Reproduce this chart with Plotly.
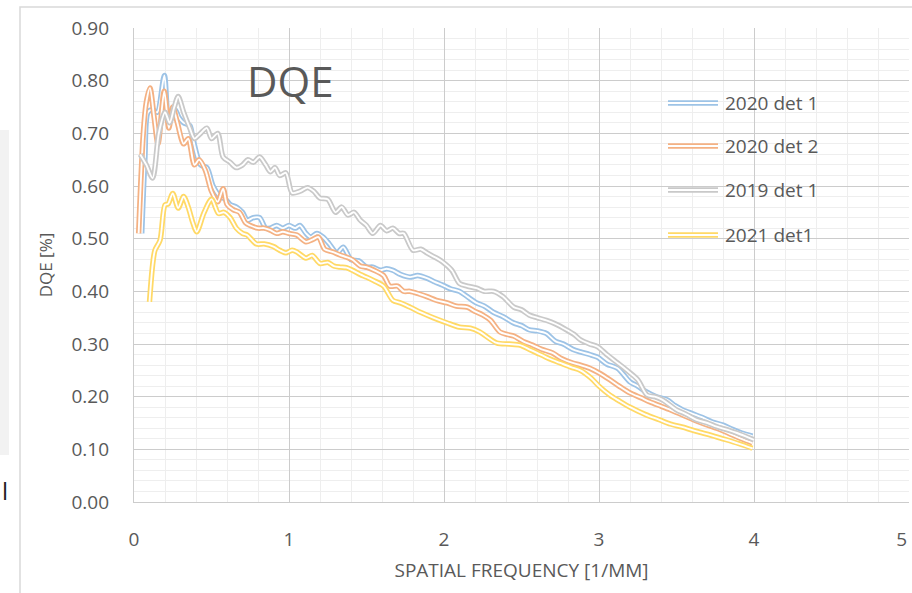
import plotly.graph_objects as go

# ---------------- data ----------------
blue_x = [0.05, 0.07, 0.09, 0.12, 0.15, 0.196, 0.225, 0.265, 0.29, 0.32, 0.36, 0.38, 0.43, 0.47, 0.51,
          0.555, 0.59, 0.62, 0.66, 0.70, 0.73, 0.77, 0.81, 0.85, 0.88, 0.92, 0.96, 1.00, 1.04, 1.07,
          1.11, 1.14, 1.18, 1.22, 1.26, 1.31, 1.35, 1.40, 1.45, 1.50, 1.54, 1.59, 1.63, 1.67, 1.72,
          1.78, 1.83, 1.89, 1.94, 1.99, 2.04, 2.10, 2.15, 2.21, 2.26, 2.32, 2.38, 2.45, 2.50, 2.55,
          2.60, 2.66, 2.72, 2.77, 2.83, 2.88, 2.94, 2.99, 3.05, 3.12, 3.20, 3.25, 3.30, 3.37, 3.44,
          3.49, 3.54, 3.60, 3.67, 3.73, 3.80, 3.86, 3.92, 3.99]
blue_y = [0.51, 0.65, 0.74, 0.745, 0.74, 0.81, 0.72, 0.745, 0.73, 0.72, 0.715, 0.69, 0.64, 0.635, 0.60,
          0.58, 0.575, 0.565, 0.56, 0.55, 0.535, 0.54, 0.54, 0.52, 0.52, 0.525, 0.52, 0.525, 0.52, 0.525,
          0.51, 0.503, 0.51, 0.503, 0.49, 0.473, 0.484, 0.46, 0.458, 0.446, 0.446, 0.44, 0.443, 0.44, 0.432,
          0.427, 0.43, 0.425, 0.418, 0.412, 0.405, 0.40, 0.39, 0.378, 0.372, 0.36, 0.352, 0.34, 0.335, 0.327,
          0.325, 0.32, 0.305, 0.30, 0.29, 0.285, 0.28, 0.275, 0.262, 0.254, 0.228, 0.22, 0.21, 0.20, 0.194,
          0.183, 0.175, 0.168, 0.16, 0.152, 0.146, 0.138, 0.131, 0.125]

orange_x = [0.03, 0.06, 0.08, 0.103, 0.13, 0.155, 0.195, 0.225, 0.25, 0.28, 0.32, 0.35, 0.39, 0.42, 0.46,
            0.50, 0.54, 0.575, 0.60, 0.64, 0.68, 0.72, 0.75, 0.80, 0.84, 0.88, 0.92, 0.96, 1.00, 1.05,
            1.11, 1.15, 1.19, 1.23, 1.28, 1.33, 1.37, 1.41, 1.46, 1.50, 1.55, 1.61, 1.65, 1.70, 1.74,
            1.78, 1.84, 1.89, 1.95, 2.02, 2.08, 2.15, 2.20, 2.25, 2.30, 2.36, 2.41, 2.45, 2.51, 2.57,
            2.63, 2.70, 2.76, 2.83, 2.88, 2.94, 3.00, 3.07, 3.13, 3.20, 3.27, 3.33, 3.40, 3.46, 3.54,
            3.61, 3.68, 3.76, 3.84, 3.92, 3.99]
orange_y = [0.51, 0.70, 0.76, 0.786, 0.73, 0.68, 0.78, 0.71, 0.75, 0.72, 0.68, 0.69, 0.64, 0.65, 0.63,
            0.59, 0.57, 0.595, 0.565, 0.555, 0.55, 0.53, 0.525, 0.52, 0.52, 0.516, 0.51, 0.513, 0.51, 0.507,
            0.494, 0.498, 0.503, 0.48, 0.475, 0.469, 0.465, 0.46, 0.448, 0.446, 0.44, 0.43, 0.41, 0.41, 0.40,
            0.40, 0.395, 0.39, 0.383, 0.378, 0.372, 0.37, 0.362, 0.355, 0.345, 0.323, 0.318, 0.315, 0.305, 0.298,
            0.29, 0.283, 0.272, 0.264, 0.26, 0.254, 0.245, 0.232, 0.22, 0.207, 0.198, 0.19, 0.182, 0.175, 0.165,
            0.156, 0.148, 0.14, 0.13, 0.12, 0.112]

grey_x = [0.04, 0.08, 0.12, 0.16, 0.20, 0.23, 0.26, 0.285, 0.32, 0.36, 0.39, 0.43, 0.47, 0.50, 0.54,
          0.575, 0.62, 0.66, 0.70, 0.735, 0.77, 0.81, 0.85, 0.88, 0.91, 0.94, 0.98, 1.02, 1.07, 1.12,
          1.16, 1.20, 1.25, 1.30, 1.34, 1.38, 1.42, 1.46, 1.50, 1.54, 1.59, 1.63, 1.67, 1.71, 1.74,
          1.80, 1.85, 1.89, 1.94, 1.99, 2.05, 2.10, 2.15, 2.21, 2.26, 2.32, 2.38, 2.45, 2.50, 2.55,
          2.60, 2.66, 2.72, 2.79, 2.84, 2.88, 2.94, 2.99, 3.05, 3.12, 3.18, 3.25, 3.31, 3.36, 3.41,
          3.50, 3.56, 3.63, 3.70, 3.76, 3.83, 3.89, 3.95, 4.00]
grey_y = [0.66, 0.64, 0.615, 0.70, 0.74, 0.72, 0.75, 0.77, 0.74, 0.71, 0.69, 0.70, 0.71, 0.69, 0.70,
          0.655, 0.645, 0.635, 0.64, 0.65, 0.645, 0.655, 0.64, 0.627, 0.635, 0.62, 0.625, 0.587, 0.59, 0.597,
          0.59, 0.577, 0.575, 0.55, 0.56, 0.545, 0.55, 0.535, 0.525, 0.51, 0.525, 0.515, 0.52, 0.51, 0.51,
          0.478, 0.48, 0.473, 0.465, 0.456, 0.44, 0.415, 0.41, 0.406, 0.40, 0.40, 0.39, 0.37, 0.365, 0.355,
          0.35, 0.345, 0.338, 0.327, 0.318, 0.308, 0.30, 0.295, 0.28, 0.264, 0.25, 0.232, 0.203, 0.20, 0.194,
          0.175, 0.167, 0.156, 0.15, 0.143, 0.137, 0.131, 0.124, 0.118]

yellow_x = [0.10, 0.12, 0.135, 0.168, 0.20, 0.22, 0.25, 0.285, 0.32, 0.35, 0.38, 0.405, 0.45, 0.50, 0.545,
            0.58, 0.62, 0.66, 0.70, 0.73, 0.79, 0.84, 0.90, 0.94, 0.98, 1.02, 1.05, 1.11, 1.15, 1.20,
            1.25, 1.29, 1.33, 1.37, 1.41, 1.46, 1.50, 1.55, 1.61, 1.67, 1.72, 1.78, 1.85, 1.93, 2.02,
            2.10, 2.17, 2.23, 2.34, 2.42, 2.49, 2.55, 2.60, 2.68, 2.75, 2.82, 2.88, 2.95, 3.00, 3.07,
            3.13, 3.20, 3.30, 3.39, 3.46, 3.54, 3.63, 3.72, 3.80, 3.90, 3.99]
yellow_y = [0.38, 0.45, 0.478, 0.497, 0.564, 0.566, 0.586, 0.558, 0.58, 0.56, 0.53, 0.513, 0.548, 0.575, 0.548,
            0.55, 0.54, 0.52, 0.51, 0.507, 0.49, 0.49, 0.485, 0.478, 0.473, 0.478, 0.475, 0.463, 0.468, 0.453,
            0.455, 0.448, 0.446, 0.445, 0.44, 0.432, 0.427, 0.42, 0.41, 0.383, 0.378, 0.37, 0.36, 0.35, 0.34,
            0.332, 0.33, 0.323, 0.302, 0.30, 0.298, 0.29, 0.283, 0.272, 0.264, 0.256, 0.25, 0.235, 0.22, 0.203,
            0.192, 0.18, 0.166, 0.156, 0.148, 0.142, 0.134, 0.127, 0.12, 0.111, 0.102]

series_names = ["2020 det 1", "2020 det 2", "2019 det 1", "2021 det1"]
series_x = [blue_x, orange_x, grey_x, yellow_x]
series_y = [blue_y, orange_y, grey_y, yellow_y]
series_colors = ["#9DC3E6", "#F4B183", "#C9C9C9", "#FFD966"]

x_ticks = [0, 1, 2, 3, 4, 5]
x_tick_labels = ["0", "1", "2", "3", "4", "5\u00a0\u00a0\u00a0"]
y_ticks = [0.0, 0.1, 0.2, 0.3, 0.4, 0.5, 0.6, 0.7, 0.8, 0.9]

# ---------------- figure ----------------
W, H = 912, 593
L, R, T, B = 134, 3, 28, 91
FONT = "Open Sans"
TXT = "#595959"
OUTER_W, INNER_W = 5.4, 1.9

fig = go.Figure()
for name, xs, ys, col in zip(series_names, series_x, series_y, series_colors):
    fig.add_trace(go.Scatter(x=xs, y=ys, mode="lines", name=name, showlegend=False,
                             line=dict(color=col, width=OUTER_W, shape="spline", smoothing=0.8),
                             hoverinfo="skip"))
    fig.add_trace(go.Scatter(x=xs, y=ys, mode="lines", name=name, showlegend=False,
                             line=dict(color="white", width=INNER_W, shape="spline", smoothing=0.8),
                             hoverinfo="skip"))

def px_x(p):
    return (p - L) / (W - L - R)

def px_y(p):
    return (H - B - p) / (H - T - B)

shapes = []
annotations = []

# manual legend with double-line symbols
legend_y = [103, 146, 190, 235]
for name, col, py in zip(series_names, series_colors, legend_y):
    for c, w in ((col, OUTER_W), ("white", INNER_W)):
        shapes.append(dict(type="line", xref="paper", yref="paper",
                           x0=px_x(668), x1=px_x(718), y0=px_y(py), y1=px_y(py),
                           line=dict(color=c, width=w)))
    annotations.append(dict(text=name, xref="paper", yref="paper", x=px_x(723), y=px_y(py),
                            xanchor="left", yanchor="middle", showarrow=False,
                            font=dict(family=FONT, size=19, color=TXT)))

# chart title inside the plot
annotations.append(dict(text="DQE", xref="paper", yref="paper", x=px_x(290), y=px_y(80),
                        xanchor="center", yanchor="middle", showarrow=False,
                        font=dict(family=FONT, size=42, color=TXT)))

# chart area border (Excel frame) and surrounding sheet remnants
shapes.append(dict(type="rect", xref="paper", yref="paper", x0=px_x(20), x1=px_x(930),
                   y0=px_y(620), y1=px_y(7), line=dict(color="#D9D9D9", width=1.5),
                   fillcolor="rgba(0,0,0,0)", layer="below"))
shapes.append(dict(type="rect", xref="paper", yref="paper", x0=px_x(0), x1=px_x(9),
                   y0=px_y(455), y1=px_y(130), line=dict(width=0), fillcolor="#F2F2F2",
                   layer="below"))
annotations.append(dict(text="l", xref="paper", yref="paper", x=px_x(5), y=px_y(490),
                        xanchor="center", yanchor="middle", showarrow=False,
                        font=dict(family=FONT, size=24, color="#222222")))

fig.update_layout(
    width=W, height=H,
    margin=dict(l=L, r=R, t=T, b=B, autoexpand=False),
    paper_bgcolor="white", plot_bgcolor="white",
    shapes=shapes, annotations=annotations,
    showlegend=False,
    font=dict(family=FONT, color=TXT),
)

fig.update_xaxes(
    range=[0, 5], tickvals=x_ticks, ticktext=x_tick_labels,
    showgrid=True, gridcolor="#CCCCCC", gridwidth=1.3,
    minor=dict(dtick=0.2, showgrid=True, gridcolor="#EEEEEE", gridwidth=1),
    showline=True, linecolor="#CCCCCC", linewidth=1.3,
    zeroline=False, ticks="", ticklabelstandoff=20, ticklabeloverflow="allow",
    automargin=False,
    tickfont=dict(family=FONT, size=19, color=TXT),
    title=dict(text="SPATIAL FREQUENCY [1/MM]", standoff=12,
               font=dict(family=FONT, size=19, color=TXT)),
)
fig.update_yaxes(
    range=[0, 0.9], tickvals=y_ticks, ticktext=[f"{v:.2f}" for v in y_ticks],
    showgrid=True, gridcolor="#CCCCCC", gridwidth=1.3,
    minor=dict(dtick=0.02, showgrid=True, gridcolor="#EEEEEE", gridwidth=1),
    showline=True, linecolor="#CCCCCC", linewidth=1.3,
    zeroline=False, ticks="", ticklabelstandoff=20, ticklabeloverflow="allow",
    automargin=False,
    tickfont=dict(family=FONT, size=19, color=TXT),
    title=dict(text="DQE [%]", standoff=14,
               font=dict(family=FONT, size=17, color=TXT)),
)

fig.write_html("out.html")
